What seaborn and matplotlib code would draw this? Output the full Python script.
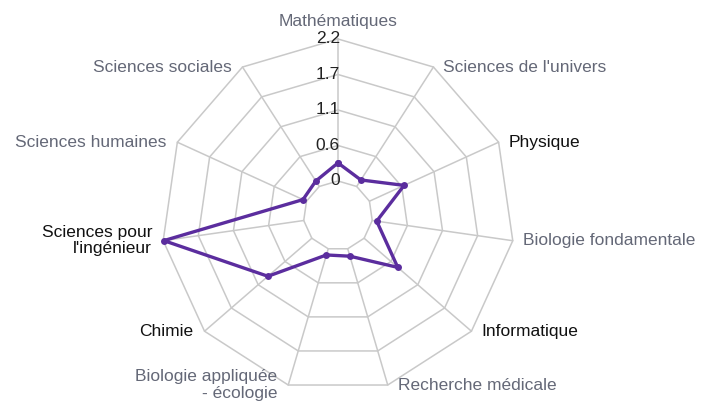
import numpy as np
import pandas as pd
import matplotlib
matplotlib.use("Agg")
import matplotlib.pyplot as plt
import seaborn as sns

# categories clockwise from the top
categories = [
    "Mathématiques",
    "Sciences de l'univers",
    "Physique",
    "Biologie fondamentale",
    "Informatique",
    "Recherche médicale",
    "Biologie appliquée\n- écologie",
    "Chimie",
    "Sciences pour\nl'ingénieur",
    "Sciences humaines",
    "Sciences sociales",
]
values = [0.28, 0.12, 0.59, 0.07, 0.69, 0.12, 0.10, 0.90, 2.19, 0.06, 0.10]
dark_labels = ["Physique", "Informatique", "Chimie", "Sciences pour\nl'ingénieur"]
ring_levels = [0, 0.55, 1.1, 1.65, 2.2]
ring_labels = ["0", "0.6", "1.1", "1.7", "2.2"]

sns.set_theme(style="white")
plt.rcParams["font.family"] = ["Liberation Sans", "DejaVu Sans"]

n = len(categories)
theta = np.arange(n) * 2 * np.pi / n
theta_closed = np.append(theta, 2 * np.pi)

fig = plt.figure(figsize=(7.02, 4.01), dpi=100)
ax = fig.add_axes([0.2299, 0.022, 0.5031, 0.8808], projection="polar")
ax.set_theta_zero_location("N")
ax.set_theta_direction(-1)
ax.set_ylim(0, 2.2)
ax.set_rorigin(-0.536)
ax.grid(False)
ax.set_xticks([])
ax.set_yticks([])
ax.patch.set_visible(False)
for sp in ax.spines.values():
    sp.set_visible(False)
    sp.set_color("none")

grid_color = "#c9c9c9"
# polygon rings
for lvl in ring_levels:
    ax.plot(theta_closed, [lvl] * (n + 1), color=grid_color, lw=1.1,
            zorder=1, clip_on=False)
# spokes
for t in theta:
    ax.plot([t, t], [0, 2.2], color=grid_color, lw=1.1, zorder=1, clip_on=False)

# data line
df = pd.DataFrame({"theta": theta_closed, "value": values + values[:1]})
sns.lineplot(data=df, x="theta", y="value", sort=False, color="#5b2d9e",
             lw=2.4, marker="o", markersize=5, markeredgewidth=0,
             ax=ax, zorder=3, clip_on=False)
ax.set_xlabel("")
ax.set_ylabel("")

# ring value labels along the top axis
for lvl, lab in zip(ring_levels, ring_labels):
    ax.annotate(lab, xy=(0, lvl), xytext=(2, 0), textcoords="offset pixels",
                ha="right", va="center", fontsize=12.5, color="#222222", zorder=4)

# category labels
for t, cat in zip(theta, categories):
    color = "#111111" if cat in dark_labels else "#646877"
    s = np.sin(t)
    if abs(s) < 1e-6:
        ax.annotate(cat, xy=(t, 2.2), xytext=(0, 10), textcoords="offset pixels",
                    ha="center", va="bottom", fontsize=12.5, color=color)
    elif s > 0:
        ax.annotate(cat, xy=(t, 2.2), xytext=(10, 0), textcoords="offset pixels",
                    ha="left", va="center", fontsize=12.5, color=color)
    else:
        ax.annotate(cat, xy=(t, 2.2), xytext=(-11, 0), textcoords="offset pixels",
                    ha="right", va="center", fontsize=12.5, color=color,
                    multialignment="right", linespacing=1.1)

fig.savefig("out.png", dpi=100, facecolor="white")
